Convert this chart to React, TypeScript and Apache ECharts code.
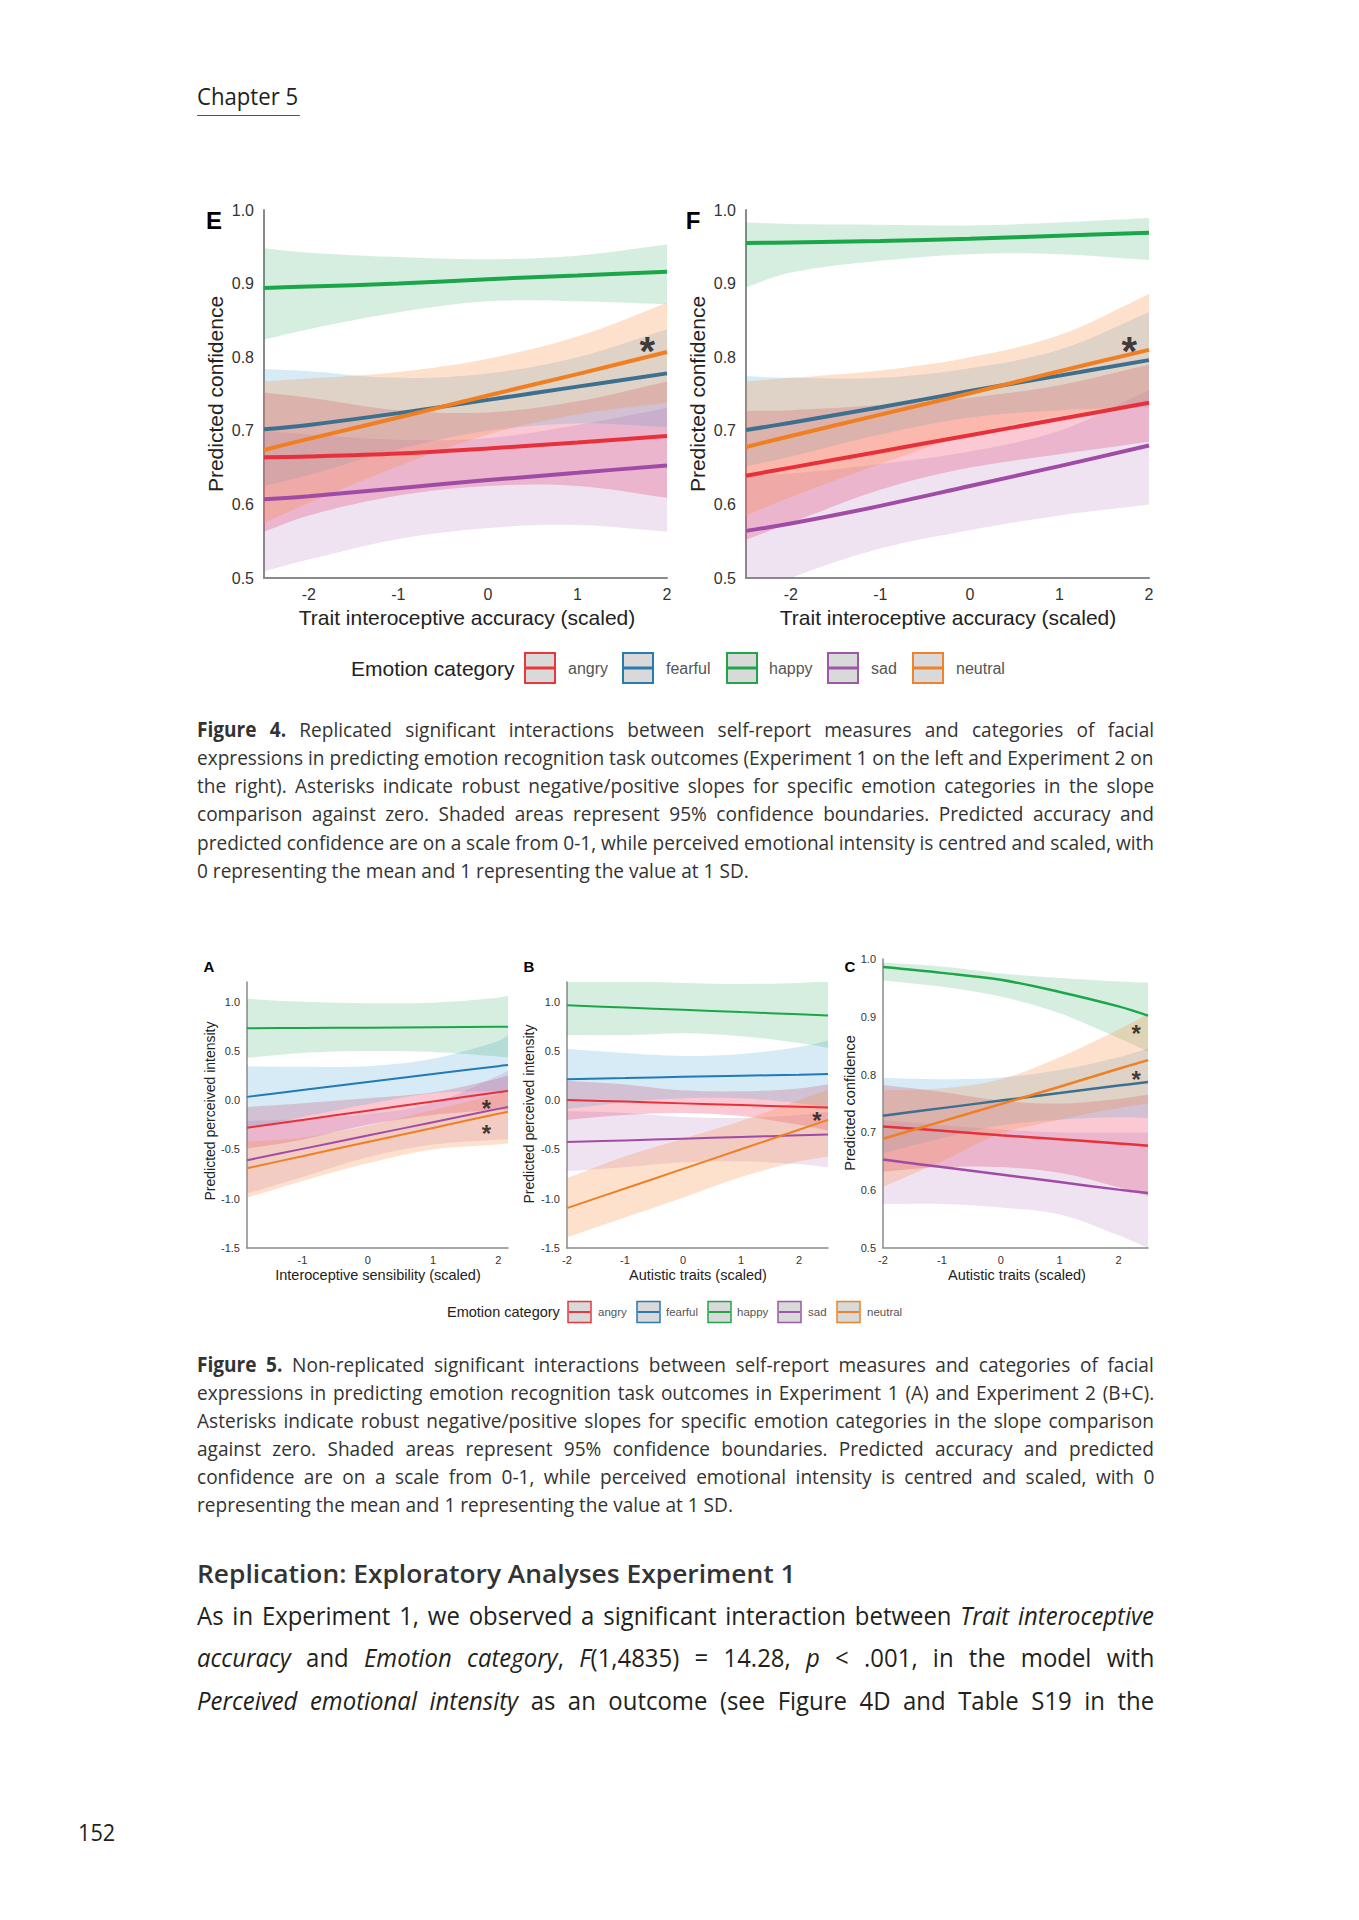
import React, { useEffect, useLayoutEffect, useRef } from 'react';
import * as echarts from 'echarts';

// ---------- categories & colours ----------
const EMOTIONS = ['angry', 'fearful', 'happy', 'sad', 'neutral'];
const LINE_COLORS = ['#e8303a', '#3d6f8f', '#1ca64a', '#a04ca6', '#f07f22'];
const LINE_COLORS_SMALL = ['#e8303a', '#2279b5', '#1ca64a', '#a04ca6', '#f07f22'];
const BAND_COLORS = [
  'rgba(236,62,96,0.28)',
  'rgba(70,165,215,0.22)',
  'rgba(30,160,80,0.18)',
  'rgba(165,95,175,0.18)',
  'rgba(250,140,60,0.26)',
];
const LEGEND_COLORS = ['#e8383d', '#2a7ab0', '#20a648', '#9b59a6', '#f0822a'];

// ---------- Panel E (Experiment 1, trait interoceptive accuracy) ----------
const E_X = [-2.5, -2, -1, 0, 1, 2];
// order: angry, fearful, happy, sad, neutral
const E_FIT = [
  [0.664, 0.665, 0.669, 0.676, 0.684, 0.693],
  [0.702, 0.708, 0.724, 0.742, 0.76, 0.778],
  [0.894, 0.896, 0.9, 0.906, 0.911, 0.916],
  [0.607, 0.611, 0.622, 0.633, 0.643, 0.653],
  [0.674, 0.689, 0.718, 0.748, 0.777, 0.807],
];
const E_LO = [
  [0.563, 0.585, 0.612, 0.625, 0.625, 0.609],
  [0.625, 0.64, 0.675, 0.7, 0.71, 0.705],
  [0.824, 0.838, 0.861, 0.876, 0.876, 0.872],
  [0.509, 0.525, 0.553, 0.568, 0.572, 0.563],
  [0.575, 0.602, 0.652, 0.695, 0.722, 0.738],
];
const E_HI = [
  [0.752, 0.745, 0.728, 0.725, 0.74, 0.767],
  [0.784, 0.781, 0.772, 0.778, 0.8, 0.838],
  [0.948, 0.942, 0.936, 0.933, 0.938, 0.953],
  [0.7, 0.695, 0.688, 0.69, 0.708, 0.731],
  [0.767, 0.771, 0.78, 0.798, 0.828, 0.874],
];
const E_STARS = [[1.78, 0.821]];

// ---------- Panel F (Experiment 2, trait interoceptive accuracy) ----------
const F_X = [-2.5, -2, -1, 0, 1, 2];
const F_FIT = [
  [0.639, 0.65, 0.672, 0.694, 0.716, 0.738],
  [0.701, 0.711, 0.732, 0.754, 0.775, 0.796],
  [0.955, 0.956, 0.958, 0.961, 0.965, 0.969],
  [0.564, 0.574, 0.598, 0.625, 0.652, 0.68],
  [0.678, 0.693, 0.722, 0.751, 0.781, 0.81],
];
const F_LO = [
  [0.552, 0.575, 0.62, 0.65, 0.668, 0.685],
  [0.652, 0.665, 0.695, 0.718, 0.728, 0.732],
  [0.895, 0.915, 0.931, 0.94, 0.94, 0.932],
  [0.47, 0.5, 0.54, 0.565, 0.585, 0.6],
  [0.585, 0.61, 0.655, 0.695, 0.72, 0.735],
];
const F_HI = [
  [0.727, 0.728, 0.735, 0.745, 0.762, 0.79],
  [0.774, 0.772, 0.772, 0.785, 0.81, 0.861],
  [0.983, 0.981, 0.98, 0.979, 0.983, 0.989],
  [0.64, 0.642, 0.655, 0.672, 0.7, 0.755],
  [0.767, 0.772, 0.782, 0.8, 0.83, 0.886],
];
const F_STARS = [[1.78, 0.821]];

// ---------- Panel A (Experiment 1, interoceptive sensibility) ----------
const A_X = [-1.85, -1, 0, 1, 2, 2.15];
const A_FIT = [
  [-0.279, -0.2, -0.106, -0.012, 0.081, 0.095],
  [0.034, 0.103, 0.184, 0.265, 0.346, 0.357],
  [0.731, 0.733, 0.736, 0.74, 0.745, 0.746],
  [-0.609, -0.494, -0.359, -0.223, -0.088, -0.068],
  [-0.69, -0.568, -0.424, -0.281, -0.137, -0.116],
];
const A_LO = [
  [-0.49, -0.4, -0.25, -0.15, -0.1, -0.1],
  [-0.29, -0.17, -0.04, 0.07, 0.09, 0.08],
  [0.43, 0.48, 0.5, 0.49, 0.445, 0.435],
  [-0.95, -0.78, -0.58, -0.45, -0.4, -0.4],
  [-0.99, -0.82, -0.64, -0.5, -0.45, -0.44],
];
const A_HI = [
  [-0.07, -0.03, 0.02, 0.08, 0.22, 0.25],
  [0.343, 0.34, 0.345, 0.42, 0.6, 0.663],
  [1.03, 1.0, 0.985, 0.99, 1.04, 1.06],
  [-0.21, -0.19, -0.14, -0.03, 0.25, 0.3],
  [-0.42, -0.38, -0.26, -0.1, 0.06, 0.09],
];
const A_STARS = [[1.82, -0.03], [1.82, -0.286]];

// ---------- Panel B (Experiment 2, autistic traits, intensity) ----------
const B_X = [-2, -1, 0, 1, 2, 2.5];
const B_FIT = [
  [0.003, -0.014, -0.032, -0.049, -0.066, -0.075],
  [0.214, 0.225, 0.237, 0.248, 0.259, 0.265],
  [0.963, 0.94, 0.918, 0.895, 0.873, 0.861],
  [-0.425, -0.408, -0.39, -0.373, -0.356, -0.347],
  [-1.095, -0.896, -0.697, -0.498, -0.299, -0.2],
];
const B_LO = [
  [-0.2, -0.15, -0.13, -0.16, -0.25, -0.31],
  [-0.09, -0.02, 0.02, 0.02, -0.03, -0.08],
  [0.663, 0.66, 0.68, 0.65, 0.58, 0.53],
  [-0.72, -0.68, -0.63, -0.62, -0.65, -0.68],
  [-1.39, -1.19, -0.99, -0.78, -0.62, -0.57],
];
const B_HI = [
  [0.197, 0.16, 0.1, 0.09, 0.12, 0.163],
  [0.52, 0.48, 0.45, 0.47, 0.54, 0.605],
  [1.22, 1.21, 1.19, 1.18, 1.19, 1.21],
  [-0.11, -0.13, -0.17, -0.18, -0.15, -0.12],
  [-0.79, -0.57, -0.39, -0.21, 0.0, 0.11],
];
const B_STARS = [[2.31, -0.153]];

// ---------- Panel C (Experiment 2, autistic traits, confidence) ----------
const C_X = [-2, -1, 0, 1, 2, 2.5];
const C_FIT = [
  [0.71, 0.703, 0.695, 0.688, 0.681, 0.677],
  [0.729, 0.742, 0.755, 0.768, 0.781, 0.787],
  [0.986, 0.976, 0.964, 0.943, 0.918, 0.902],
  [0.653, 0.64, 0.627, 0.614, 0.601, 0.595],
  [0.689, 0.719, 0.749, 0.779, 0.81, 0.825],
];
const C_LO = [
  [0.632, 0.64, 0.64, 0.63, 0.605, 0.59],
  [0.664, 0.69, 0.712, 0.722, 0.726, 0.725],
  [0.963, 0.952, 0.935, 0.906, 0.863, 0.84],
  [0.576, 0.576, 0.57, 0.558, 0.522, 0.5],
  [0.606, 0.65, 0.698, 0.722, 0.742, 0.75],
];
const C_HI = [
  [0.782, 0.77, 0.755, 0.75, 0.758, 0.765],
  [0.794, 0.792, 0.795, 0.808, 0.83, 0.845],
  [0.994, 0.987, 0.975, 0.967, 0.961, 0.959],
  [0.721, 0.713, 0.705, 0.7, 0.7, 0.7],
  [0.773, 0.776, 0.792, 0.83, 0.878, 0.905],
];
const C_STARS = [[2.3, 0.881], [2.3, 0.801]];

// ---------- text ----------
const X_TITLE_TRAIT = 'Trait interoceptive accuracy (scaled)';
const X_TITLE_SENS = 'Interoceptive sensibility (scaled)';
const X_TITLE_AUT = 'Autistic traits (scaled)';
const Y_TITLE_CONF = 'Predicted confidence';
const Y_TITLE_INT = 'Predicted perceived intensity';
const LEGEND_TITLE = 'Emotion category';

type Seg = { t: string; i?: boolean; b?: boolean };
const FIG4_LINES: Seg[][] = [
  [{ t: 'Figure 4.', b: true }, { t: ' Replicated significant interactions between self-report measures and categories of facial' }],
  [{ t: 'expressions in predicting emotion recognition task outcomes (Experiment 1 on the left and Experiment 2 on' }],
  [{ t: 'the right). Asterisks indicate robust negative/positive slopes for specific emotion categories in the slope' }],
  [{ t: 'comparison against zero. Shaded areas represent 95% confidence boundaries. Predicted accuracy and' }],
  [{ t: 'predicted confidence are on a scale from 0-1, while perceived emotional intensity is centred and scaled, with' }],
  [{ t: '0 representing the mean and 1 representing the value at 1 SD.' }],
];
const FIG5_LINES: Seg[][] = [
  [{ t: 'Figure 5.', b: true }, { t: ' Non-replicated significant interactions between self-report measures and categories of facial' }],
  [{ t: 'expressions in predicting emotion recognition task outcomes in Experiment 1 (A) and Experiment 2 (B+C).' }],
  [{ t: 'Asterisks indicate robust negative/positive slopes for specific emotion categories in the slope comparison' }],
  [{ t: 'against zero. Shaded areas represent 95% confidence boundaries. Predicted accuracy and predicted' }],
  [{ t: 'confidence are on a scale from 0-1, while perceived emotional intensity is centred and scaled, with 0' }],
  [{ t: 'representing the mean and 1 representing the value at 1 SD.' }],
];
const BODY_LINES: Seg[][] = [
  [{ t: 'As in Experiment 1, we observed a significant interaction between ' }, { t: 'Trait interoceptive', i: true }],
  [
    { t: 'accuracy', i: true }, { t: ' and ' }, { t: 'Emotion category', i: true }, { t: ', ' },
    { t: 'F', i: true }, { t: '(1,4835) = 14.28, ' }, { t: 'p', i: true }, { t: ' < .001, in the model with' },
  ],
  [{ t: 'Perceived emotional intensity', i: true }, { t: ' as an outcome (see Figure 4D and Table S19 in the' }],
];
const HEADING = 'Replication: Exploratory Analyses Experiment 1';
const CHAPTER = 'Chapter 5';
const PAGE_NO = '152';

// ---------- layout ----------
const FONT = '"Liberation Sans", Arial, Helvetica, sans-serif';

const PANELS = [
  { key: 'E', x: E_X, fit: E_FIT, lo: E_LO, hi: E_HI, stars: E_STARS, grid: [264, 210, 403, 368], xr: [-2.5, 2], yr: [0.5, 1.0], yInt: 0.1, big: true, colors: LINE_COLORS, lw: 4 },
  { key: 'F', x: F_X, fit: F_FIT, lo: F_LO, hi: F_HI, stars: F_STARS, grid: [746, 210, 403, 368], xr: [-2.5, 2], yr: [0.5, 1.0], yInt: 0.1, big: true, colors: LINE_COLORS, lw: 4 },
  { key: 'A', x: A_X, fit: A_FIT, lo: A_LO, hi: A_HI, stars: A_STARS, grid: [247, 982, 261, 266], xr: [-1.85, 2.15], yr: [-1.5, 1.2], yInt: 0.5, big: false, colors: LINE_COLORS_SMALL, lw: 2 },
  { key: 'B', x: B_X, fit: B_FIT, lo: B_LO, hi: B_HI, stars: B_STARS, grid: [567, 982, 261, 266], xr: [-2, 2.5], yr: [-1.5, 1.2], yInt: 0.5, big: false, colors: LINE_COLORS_SMALL, lw: 2 },
  { key: 'C', x: C_X, fit: C_FIT, lo: C_LO, hi: C_HI, stars: C_STARS, grid: [883, 959, 265, 289], xr: [-2, 2.5], yr: [0.5, 1.0], yInt: 0.1, big: false, colors: LINE_COLORS, lw: 2.5 },
];

const TITLES = [
  { text: 'E', x: 214, y: 220, size: 24, bold: true },
  { text: 'F', x: 693, y: 220, size: 24, bold: true },
  { text: 'A', x: 209, y: 966, size: 15, bold: true },
  { text: 'B', x: 529, y: 966, size: 15, bold: true },
  { text: 'C', x: 850, y: 966, size: 15, bold: true },
  { text: X_TITLE_TRAIT, x: 467, y: 617, size: 21 },
  { text: X_TITLE_TRAIT, x: 948, y: 617, size: 21 },
  { text: Y_TITLE_CONF, x: 215, y: 394, size: 21, rot: true },
  { text: Y_TITLE_CONF, x: 697, y: 394, size: 21, rot: true },
  { text: X_TITLE_SENS, x: 378, y: 1275, size: 14.5 },
  { text: X_TITLE_AUT, x: 698, y: 1275, size: 14.5 },
  { text: X_TITLE_AUT, x: 1017, y: 1275, size: 14.5 },
  { text: Y_TITLE_INT, x: 210, y: 1111, size: 14, rot: true },
  { text: Y_TITLE_INT, x: 529, y: 1114, size: 14, rot: true },
  { text: Y_TITLE_CONF, x: 850, y: 1103, size: 14.5, rot: true },
];

const LEGENDS = [
  { y: 668, titleX: 351, titleSize: 21, boxX: [525, 623, 727, 828, 913], boxW: 30, boxH: 30, textX: [568, 666, 769, 871, 956], textSize: 16, lw: 2, inner: 3 },
  { y: 1312, titleX: 447, titleSize: 14.5, boxX: [568, 637, 708, 778, 837], boxW: 23, boxH: 21, textX: [598, 666, 737, 808, 867], textSize: 11.5, lw: 1.5, inner: 2 },
];

const SMOOTH = 0.35;
const isMult = (v: number, m: number) => Math.abs(v / m - Math.round(v / m)) < 1e-6;

// smooth cubic segments through pixel points (same scheme as ECharts' smoothBezier)
function bezierThrough(pts: number[][], smooth: number): string {
  const n = pts.length;
  const cps: number[][][] = [];
  for (let i = 0; i < n; i++) {
    const p = pts[i];
    const prev = pts[Math.max(0, i - 1)];
    const next = pts[Math.min(n - 1, i + 1)];
    const vx = (next[0] - prev[0]) * smooth;
    const vy = (next[1] - prev[1]) * smooth;
    let d0 = Math.hypot(p[0] - prev[0], p[1] - prev[1]);
    let d1 = Math.hypot(next[0] - p[0], next[1] - p[1]);
    const s = d0 + d1;
    if (s > 0) { d0 /= s; d1 /= s; }
    cps.push([[p[0] - vx * d0, p[1] - vy * d0], [p[0] + vx * d1, p[1] + vy * d1]]);
  }
  let d = '';
  for (let i = 0; i < n - 1; i++) {
    const a = cps[i][1];
    const b = cps[i + 1][0];
    const q = pts[i + 1];
    d += ` C ${a[0].toFixed(2)} ${a[1].toFixed(2)} ${b[0].toFixed(2)} ${b[1].toFixed(2)} ${q[0].toFixed(2)} ${q[1].toFixed(2)}`;
  }
  return d;
}

function buildOption() {
  const grid: any[] = [];
  const xAxis: any[] = [];
  const yAxis: any[] = [];
  const series: any[] = [];
  PANELS.forEach((p, gi) => {
    grid.push({ left: p.grid[0], top: p.grid[1], width: p.grid[2], height: p.grid[3] });
    const fs = p.big ? 16 : 11;
    const axisLine = { show: true, onZero: false, lineStyle: { color: '#8a8a8a', width: p.big ? 2 : 1.5 } };
    xAxis.push({
      type: 'value', gridIndex: gi, min: p.xr[0], max: p.xr[1], interval: 0.05,
      axisLine, axisTick: { show: false }, splitLine: { show: false },
      axisLabel: {
        fontSize: fs, color: '#333', fontFamily: FONT, margin: p.big ? 8 : 6,
        formatter: (v: number) => (isMult(v, 1) ? String(Math.round(v) + 0) : ''),
      },
    });
    yAxis.push({
      type: 'value', gridIndex: gi, min: p.yr[0], max: p.yr[1], interval: p.yInt,
      axisLine, axisTick: { show: false }, splitLine: { show: false },
      axisLabel: {
        fontSize: fs, color: '#333', fontFamily: FONT, margin: p.big ? 10 : 7,
        formatter: (v: number) => {
          const u = Math.abs(v) < 1e-9 ? 0 : v;
          return isMult(u, p.yInt) ? u.toFixed(1) : '';
        },
      },
    });
    // confidence bands
    EMOTIONS.forEach((em, k) => {
      const lo = p.lo[k];
      const hi = p.hi[k];
      series.push({
        type: 'custom', name: `${p.key}-${em}-band`, coordinateSystem: 'cartesian2d',
        xAxisIndex: gi, yAxisIndex: gi, clip: true, silent: true, z: 2,
        data: p.x.map((xv, i) => [xv, lo[i], hi[i]]),
        encode: { x: 0, y: [1, 2] },
        renderItem: (params: any, api: any) => {
          if (params.dataIndex !== 0) return null;
          const up = p.x.map((xv, i) => api.coord([xv, hi[i]]));
          const dn = p.x.map((xv, i) => api.coord([xv, lo[i]])).reverse();
          const d =
            `M ${up[0][0].toFixed(2)} ${up[0][1].toFixed(2)}` + bezierThrough(up, SMOOTH) +
            ` L ${dn[0][0].toFixed(2)} ${dn[0][1].toFixed(2)}` + bezierThrough(dn, SMOOTH) + ' Z';
          const cs = params.coordSys;
          return {
            type: 'path',
            shape: { pathData: d },
            style: { fill: BAND_COLORS[k], stroke: 'none' },
            clipPath: { type: 'rect', shape: { x: cs.x, y: cs.y, width: cs.width, height: cs.height } },
          };
        },
      });
    });
    // fitted lines
    EMOTIONS.forEach((em, k) => {
      series.push({
        type: 'line', name: `${p.key}-${em}`, xAxisIndex: gi, yAxisIndex: gi,
        data: p.x.map((xv, i) => [xv, p.fit[k][i]]), symbol: 'none', showSymbol: false, smooth: SMOOTH,
        lineStyle: { color: p.colors[k], width: p.lw }, silent: true, z: 3,
      });
    });
    const sfs = p.big ? 40 : 24;
    series.push({
      type: 'scatter', name: `${p.key}-stars`, xAxisIndex: gi, yAxisIndex: gi, data: p.stars,
      symbolSize: 1, itemStyle: { color: 'rgba(0,0,0,0)' }, silent: true, z: 5,
      label: {
        show: true, formatter: '*', position: 'inside', fontSize: sfs, fontWeight: 'bold',
        color: '#111', fontFamily: FONT, offset: [0, sfs * 0.22],
      },
    });
  });

  const graphic: any[] = [];
  TITLES.forEach((t) => {
    graphic.push({
      type: 'text', x: t.x, y: t.y, rotation: t.rot ? Math.PI / 2 : 0, z: 10, silent: true,
      style: {
        text: t.text, fontSize: t.size, fontFamily: FONT, fontWeight: t.bold ? 'bold' : 'normal',
        fill: t.bold ? '#000' : '#222', align: 'center', verticalAlign: 'middle',
      },
    });
  });
  LEGENDS.forEach((L) => {
    graphic.push({
      type: 'text', x: L.titleX, y: L.y, z: 10, silent: true,
      style: { text: LEGEND_TITLE, fontSize: L.titleSize, fontFamily: FONT, fill: '#222', align: 'left', verticalAlign: 'middle' },
    });
    EMOTIONS.forEach((em, k) => {
      const bx = L.boxX[k];
      const by = L.y - L.boxH / 2;
      graphic.push({
        type: 'rect', z: 10, silent: true,
        shape: { x: bx, y: by, width: L.boxW, height: L.boxH },
        style: { fill: '#d9d9d9', stroke: LEGEND_COLORS[k], lineWidth: L.lw },
      });
      graphic.push({
        type: 'line', z: 11, silent: true,
        shape: { x1: bx + 1, y1: L.y, x2: bx + L.boxW - 1, y2: L.y },
        style: { stroke: LEGEND_COLORS[k], lineWidth: L.inner },
      });
      graphic.push({
        type: 'text', x: L.textX[k], y: L.y, z: 10, silent: true,
        style: { text: em, fontSize: L.textSize, fontFamily: FONT, fill: '#555', align: 'left', verticalAlign: 'middle' },
      });
    });
  });

  return { animation: false, backgroundColor: 'transparent', grid, xAxis, yAxis, series, graphic };
}

// ---------- HTML text lines ----------
function TLine(props: {
  segs: Seg[]; x: number; y: number; w: number; size: number; scale?: number;
  mode?: 'left' | 'justify' | 'fit'; color?: string; weight?: number;
}) {
  const { segs, x, y, w, size, scale = 1, mode = 'left', color = '#2a2a2a', weight = 400 } = props;
  const outer = useRef<HTMLDivElement>(null);
  const inner = useRef<HTMLSpanElement>(null);
  useLayoutEffect(() => {
    const run = () => {
      const el = inner.current;
      const o = outer.current;
      if (!el || !o) return;
      el.style.wordSpacing = '0px';
      const nat = el.offsetWidth;
      const text = segs.map((s) => s.t).join('');
      const n = (text.match(/ /g) || []).length;
      if (mode === 'justify' && n > 0) el.style.wordSpacing = `${(w / scale - nat) / n}px`;
      if (mode === 'fit' && nat > 0) o.style.transform = `scaleX(${w / nat})`;
    };
    run();
    const f: any = (document as any).fonts;
    if (f && f.ready) f.ready.then(run);
  }, []);
  return (
    <div
      ref={outer}
      style={{
        position: 'absolute', left: x, top: y - size * 0.76, whiteSpace: 'nowrap',
        fontFamily: '"Open Sans", "Noto Sans", sans-serif', fontSize: size, lineHeight: `${size * 1.4}px`,
        color, fontWeight: weight, transform: `scaleX(${scale})`, transformOrigin: '0 0', zIndex: 2,
      }}
    >
      <span ref={inner} style={{ display: 'inline-block' }}>
        {segs.map((s, k) => (
          <span key={k} style={{ fontStyle: s.i ? 'italic' : 'normal', fontWeight: s.b ? 700 : undefined }}>
            {s.t}
          </span>
        ))}
      </span>
    </div>
  );
}

const TEXT_LEFT = 197;
const TEXT_W = 957;
const FIG4_Y = [731, 759, 787, 815, 843.5, 871.6];
const FIG5_Y = [1365.5, 1393.6, 1421.8, 1450, 1478, 1506];
const BODY_Y = [1617, 1659, 1702];

export default function App() {
  const ref = useRef<HTMLDivElement>(null);
  useEffect(() => {
    if (!ref.current) return;
    const chart = echarts.init(ref.current, null, { renderer: 'svg', width: 1359, height: 1920 });
    chart.setOption(buildOption() as any);
    return () => chart.dispose();
  }, []);
  return (
    <div style={{ position: 'absolute', left: 0, top: 0, width: 1359, height: 1920, background: '#fff', overflow: 'hidden' }}>
      <div ref={ref} style={{ position: 'absolute', left: 0, top: 0, width: 1359, height: 1920, zIndex: 1 }} />
      <TLine segs={[{ t: CHAPTER }]} x={197} y={97} w={101} size={23} mode="fit" color="#231f20" />
      <div style={{ position: 'absolute', left: 197, top: 115, width: 103, height: 0, borderTop: '1.5px solid #555', zIndex: 2 }} />
      {FIG4_LINES.map((segs, i) => (
        <TLine key={`f4${i}`} segs={segs} x={TEXT_LEFT} y={FIG4_Y[i]} w={TEXT_W} size={20.5} scale={0.93}
          mode={i < FIG4_LINES.length - 1 ? 'justify' : 'left'} color="#333" />
      ))}
      {FIG5_LINES.map((segs, i) => (
        <TLine key={`f5${i}`} segs={segs} x={TEXT_LEFT} y={FIG5_Y[i]} w={TEXT_W} size={20.5} scale={0.93}
          mode={i < FIG5_LINES.length - 1 ? 'justify' : 'left'} color="#333" />
      ))}
      <TLine segs={[{ t: HEADING }]} x={197} y={1575} w={599} size={25} mode="fit" weight={600} color="#333" />
      {BODY_LINES.map((segs, i) => (
        <TLine key={`b${i}`} segs={segs} x={TEXT_LEFT} y={BODY_Y[i]} w={TEXT_W} size={26} scale={0.92}
          mode="justify" color="#231f20" />
      ))}
      <TLine segs={[{ t: PAGE_NO }]} x={78} y={1833} w={37} size={24} mode="fit" color="#231f20" />
    </div>
  );
}
